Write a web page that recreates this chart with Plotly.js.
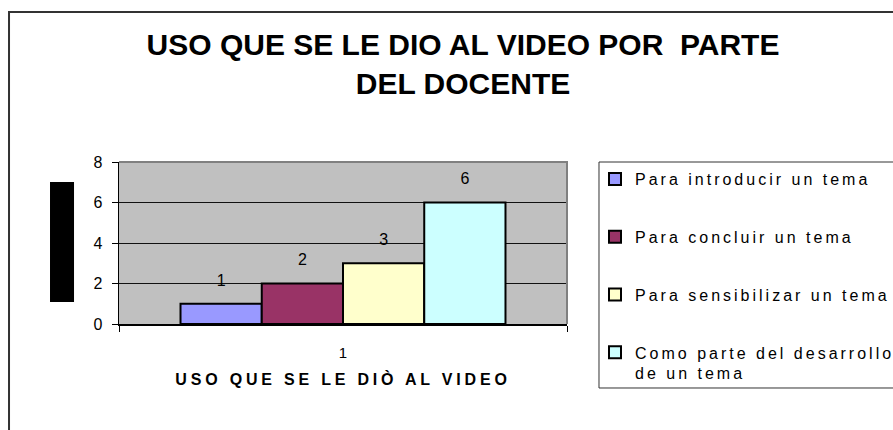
<!DOCTYPE html>
<html>
<head>
<meta charset="utf-8">
<script src="https://cdn.plot.ly/plotly-3.0.1.min.js"></script>
<style>
html,body{margin:0;padding:0;background:#fff;}
#chart{width:893px;height:430px;}
.legendtext{letter-spacing:3px;}
.xtitle{letter-spacing:3.8px;}
</style>
</head>
<body>
<div id="chart"></div>
<script>
const categories = ['1'];
const seriesNames = ['Para introducir un tema', 'Para concluir un tema', 'Para sensibilizar un tema', 'Como parte del desarrollo<br>de un tema'];
const seriesValues = [1, 2, 3, 6];
const seriesColors = ['#9999ff', '#993366', '#ffffcc', '#ccffff'];
const yTicks = [0, 2, 4, 6, 8];

const FONT = 'Liberation Sans, Arial, sans-serif';

const barTraces = seriesNames.map((name, i) => ({
  type: 'bar',
  name: name,
  x: categories,
  y: [seriesValues[i]],
  offsetgroup: 'g' + i,
  legendgroup: 'g' + i,
  marker: {color: seriesColors[i], line: {color: '#000', width: 2}},
  hoverinfo: 'none'
}));

const labelTraces = seriesNames.map((name, i) => ({
  type: 'scatter',
  mode: 'markers+text',
  x: categories,
  y: [seriesValues[i]],
  text: [String(seriesValues[i])],
  textposition: 'top center',
  offsetgroup: 'g' + i,
  marker: {size: 21, opacity: 0},
  textfont: {family: FONT, size: 16, color: '#000'},
  cliponaxis: false,
  showlegend: false,
  hoverinfo: 'none'
}));

const layout = {
  width: 893, height: 430,
  margin: {l: 119, r: 326, t: 162, b: 106, autoexpand: false},
  paper_bgcolor: '#fff',
  plot_bgcolor: '#c0c0c0',
  barmode: 'group',
  bargap: 0.2746,
  bargroupgap: 0,
  scattermode: 'group',
  scattergap: 0.2746,
  showlegend: true,
  font: {family: FONT, color: '#000'},
  title: {
    text: 'USO QUE SE LE DIO AL VIDEO POR  PARTE<br>DEL DOCENTE',
    font: {family: FONT, size: 30, color: '#000', weight: 'bold'},
    xref: 'container', yref: 'container',
    x: 0.5185, xanchor: 'center',
    y: 0.872, yanchor: 'top'
  },
  xaxis: {
    type: 'category',
    showgrid: false,
    showline: true, linecolor: '#000', linewidth: 1.5,
    ticks: 'outside', tickson: 'boundaries', ticklen: 6, tickcolor: '#000',
    tickfont: {family: FONT, size: 15, color: '#000'},
    ticklabelstandoff: 14,
    title: {text: 'USO QUE SE LE DIÒ AL VIDEO', font: {family: FONT, size: 16, color: '#000', weight: 'bold'}, standoff: 14},
    zeroline: false,
    fixedrange: true
  },
  yaxis: {
    range: [0, 8],
    tickvals: yTicks,
    showgrid: true, gridcolor: '#111', gridwidth: 1,
    showline: true, linecolor: '#000', linewidth: 1.5,
    ticks: 'outside', ticklen: 6, tickcolor: '#000',
    tickfont: {family: FONT, size: 16, color: '#000'},
    ticklabelstandoff: 6,
    zeroline: false,
    fixedrange: true
  },
  legend: {
    x: 1.0625, xanchor: 'left',
    y: 1, yanchor: 'top',
    maxheight: 400,
    bgcolor: 'rgba(0,0,0,0)',
    borderwidth: 0,
    traceorder: 'grouped',
    tracegroupgap: 34,
    valign: 'top',
    font: {family: FONT, size: 16, color: '#000'}
  },
  shapes: [
    {type: 'path', xref: 'paper', yref: 'paper', path: 'M 0,1 L 1,1 L 1,0', line: {color: '#808080', width: 2}, layer: 'above'},
    {type: 'rect', xref: 'paper', yref: 'paper', x0: -0.2455, x1: 2, y0: -1, y1: 1.926, line: {color: '#333', width: 2}, fillcolor: 'rgba(0,0,0,0)'},
    {type: 'rect', xref: 'paper', yref: 'paper', x0: 1.0714, x1: 2, y0: -0.395, y1: 1, line: {color: '#333', width: 1}, fillcolor: 'rgba(0,0,0,0)'},
    {type: 'rect', xref: 'paper', yref: 'paper', x0: -0.154, x1: -0.1004, y0: 0.1358, y1: 0.8765, line: {width: 0}, fillcolor: '#000'}
  ]
};

Plotly.newPlot('chart', barTraces.concat(labelTraces), layout, {staticPlot: true, displayModeBar: false});
</script>
</body>
</html>
